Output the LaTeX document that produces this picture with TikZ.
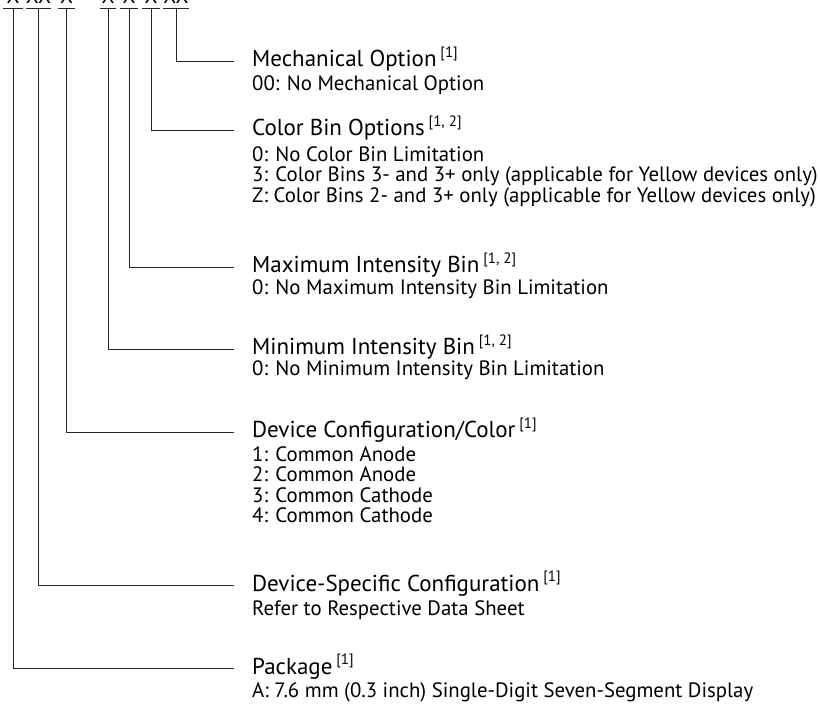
\documentclass[tikz,border=0pt]{standalone}
\usepackage{fontspec}
\setmainfont{PT Sans}
\begin{document}
\begin{tikzpicture}[x=1pt,y=-1pt,
  ttl/.style={anchor=base west,inner sep=0pt,font=\fontsize{23}{26}\selectfont},
  sub/.style={anchor=base west,inner sep=0pt,font=\fontsize{20.8}{22}\selectfont},
  lead/.style={draw=black!85,line width=0.9pt},
  hdr/.style={anchor=south,inner xsep=0pt,inner ysep=4.5pt,font=\fontsize{21}{24}\selectfont}]
\useasboundingbox (0,0) rectangle (820,708);
\newcommand{\refs}[1]{\,\raisebox{0.42em}{\fontsize{15}{16}\selectfont[#1]}}
% header characters (clipped at the top edge)
\node[hdr,minimum width=20pt] (h1) at (13,8) {X};
\node[hdr,minimum width=25pt] (h2) at (38.5,8) {XX};
\node[hdr,minimum width=17pt] (h3) at (66.5,8) {X};
\node[hdr,minimum width=16pt] (h4) at (108,8) {X};
\node[hdr,minimum width=18pt] (h5) at (129,8) {X};
\node[hdr,minimum width=18pt] (h6) at (151,8) {X};
\node[hdr,minimum width=24pt] (h7) at (176,8) {XX};
\foreach \h in {h1,h2,h3,h4,h5,h6,h7}
  \draw[lead] (\h.south west) -- (\h.south east);
% labels
\node[ttl] (t7) at (252,67) {Mechanical Option\refs{1}};
\node[sub] (s7a) at (252,91) {00: No Mechanical Option};
\node[ttl] (t6) at (252,136) {Color Bin Options\refs{1, 2}};
\node[sub] (s6a) at (252,162) {0: No Color Bin Limitation};
\node[sub] (s6b) at (252,182) {3: Color Bins 3- and 3+ only (applicable for Yellow devices only)};
\node[sub] (s6c) at (252,203) {Z: Color Bins 2- and 3+ only (applicable for Yellow devices only)};
\node[ttl] (t5) at (252,273) {Maximum Intensity Bin\refs{1, 2}};
\node[sub] (s5a) at (252,295) {0: No Maximum Intensity Bin Limitation};
\node[ttl] (t4) at (252,355) {Minimum Intensity Bin\refs{1, 2}};
\node[sub] (s4a) at (252,376) {0: No Minimum Intensity Bin Limitation};
\node[ttl] (t3) at (252,438) {Device Configuration/Color\refs{1}};
\node[sub] (s3a) at (252,462) {1: Common Anode};
\node[sub] (s3b) at (252,482) {2: Common Anode};
\node[sub] (s3c) at (252,503) {3: Common Cathode};
\node[sub] (s3d) at (252,523) {4: Common Cathode};
\node[ttl] (t2) at (252,591) {Device-Specific Configuration\refs{1}};
\node[sub] (s2a) at (252,615) {Refer to Respective Data Sheet};
\node[ttl] (t1) at (252,674) {Package\refs{1}};
\node[sub] (s1a) at (252,697) {A: 7.6 mm (0.3 inch) Single-Digit Seven-Segment Display};
% leaders
\foreach \i in {1,...,7}
  \draw[lead] (h\i.south) |- ([xshift=-18pt,yshift=6pt]t\i.base west);
\end{tikzpicture}
\end{document}
